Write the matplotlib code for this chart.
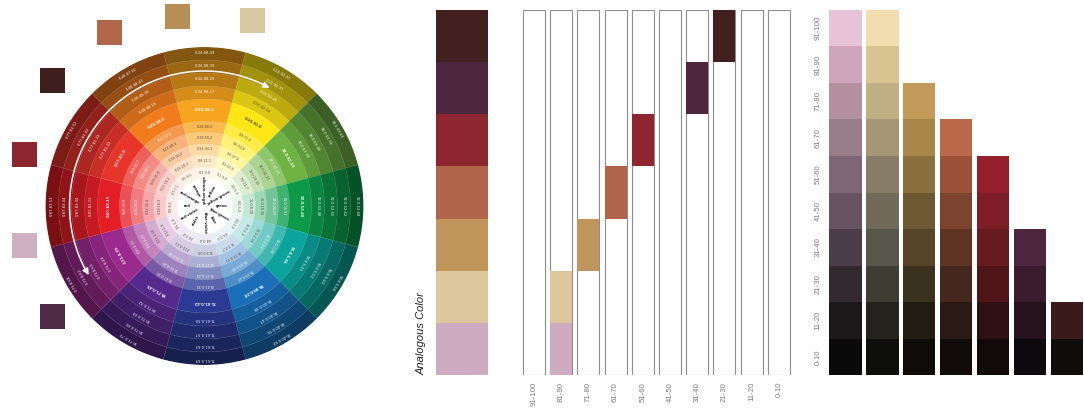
import numpy as np
import matplotlib
matplotlib.use("Agg")
import matplotlib.pyplot as plt
from matplotlib.colors import to_rgb

W, H = 1084, 419

# ---- colour wheel data (sectors clockwise from top) ----
hue_names = ["yellow-orange", "yellow", "yellow-green", "green", "blue-green", "blue",
             "blue-violet", "violet", "red-violet", "red", "red-orange", "orange"]
hue_colors = ["#F7A41E", "#FFE614", "#6FB443", "#0C9A4A", "#0BA39B", "#1A6FB8",
              "#2B3A94", "#56298D", "#9B2A8E", "#E41E26", "#E8352C", "#F07C1E"]
tint_mix = [0.90, 0.76, 0.60, 0.42, 0.22]      # toward white, inner -> outer
shade_mix = [0.14, 0.26, 0.37, 0.47]           # toward black, inner -> outer

# swatches placed around the wheel
swatch_colors = ["#B0674A", "#B58F56", "#D9C9A0", "#3F1E1E", "#8E2630", "#CFAFC2", "#4E2B45"]

# analogous colour column (top -> bottom) and the value band each one sits in
analog_colors = ["#42201F", "#4D2640", "#8E2630", "#B0654A", "#BF955B", "#DCC89C", "#CEABC0"]
analog_levels = ["21-30", "31-40", "51-60", "61-70", "71-80", "81-90", "81-90"]
levels_desc = ["91-100", "81-90", "71-80", "61-70", "51-60", "41-50", "31-40", "21-30", "11-20", "0-10"]
levels_asc = levels_desc[::-1]

# value scale columns, bottom (0-10) -> top
scale_cols = [
    ["#0A0A0B", "#1C1719", "#332A30", "#4C3E48", "#675460", "#7E6674", "#9A7D8B", "#B3909F", "#CFA5BC", "#E6C3D6"],
    ["#0E0E0D", "#25231E", "#3E3D33", "#56564A", "#716A58", "#877D66", "#A59773", "#BFAF83", "#D9C591", "#F1DDB0"],
    ["#0E0B08", "#221C13", "#3B311F", "#564529", "#6D5834", "#8A703F", "#A88548", "#C29A5A"],
    ["#110C0A", "#2A1A15", "#45271D", "#5E3424", "#7C432E", "#9B5239", "#B9684A"],
    ["#120909", "#2E1012", "#4E1418", "#671A20", "#7D1E26", "#961F2B"],
    ["#0C0A0C", "#24131D", "#3A1C2E", "#4F2640"],
    ["#0F0C0C", "#3A1A1B"],
]

# ---- layout (pixels) ----
ring_edges = [0, 28, 39, 51, 62, 74, 85, 107, 120, 133, 146, 159]
swatch_xy = [(97, 20), (165, 4), (240, 8), (40, 68), (12, 142), (12, 233), (40, 304)]
swatch_size = 25
label_col = "#7a7a7a"
tick_font = dict(family="Liberation Sans", size=5.6)


def fax(x0, y0, x1, y1, **kw):
    """axes from pixel box (top-left origin)"""
    return fig.add_axes([x0 / W, 1 - y1 / H, (x1 - x0) / W, (y1 - y0) / H], **kw)


def mix(c, other, t):
    a = np.array(to_rgb(c)); b = np.array(other)
    return tuple(a + (b - a) * t)


def cmyk(rgb):
    r, g, b = rgb
    k = 1 - max(rgb)
    if k >= 1:
        return "0.0.0.100"
    c, m, y = [(1 - v - k) / (1 - k) for v in (r, g, b)]
    return ".".join(str(int(round(v * 100))) for v in (c, m, y, k))


fig = plt.figure(figsize=(W / 100, H / 100), dpi=100)

# overlay for swatches + free text
ov = fax(0, 0, W, H)
ov.set_xlim(0, W); ov.set_ylim(H, 0); ov.axis("off")
for (x, y), c in zip(swatch_xy, swatch_colors):
    ov.bar(x, swatch_size, bottom=y, width=swatch_size, align="edge", color=c, lw=0)
ov.text(422, 375, "Analogous Color", rotation=90, ha="center", va="bottom",
        fontsize=8, style="italic", family="Liberation Sans", color="#222222")

# ---- colour wheel ----
R = ring_edges[-1]
pw = fax(204.5 - R, 206 - R, 204.5 + R, 206 + R, projection="polar")
pw.set_theta_zero_location("N"); pw.set_theta_direction(-1)
pw.set_ylim(0, R); pw.axis("off")
theta = np.radians(np.arange(12) * 30.0)
ring_fracs = [("w", 1.0)] + [("w", t) for t in tint_mix] + [("k", 0.0)] + [("k", s) for s in shade_mix]
for k, (kind, t) in enumerate(ring_fracs):
    target = (1, 1, 1) if kind == "w" else (0, 0, 0)
    cols = [mix(c, target, t) for c in hue_colors]
    r0, r1 = ring_edges[k], ring_edges[k + 1]
    pw.bar(theta, r1 - r0, width=np.radians(30), bottom=r0,
           color=cols, lw=0.25, edgecolor=[mix(c, (1, 1, 1), 0.15) for c in cols])
    if k == 0:
        continue
    for th, c in zip(theta, cols):
        ang = 90 - np.degrees(th)
        lum = 0.3 * c[0] + 0.59 * c[1] + 0.11 * c[2]
        pw.text(th, (r0 + r1) / 2, cmyk(c), rotation=ang - 90, ha="center", va="center",
                rotation_mode="anchor", fontsize=2.7 if kind == "k" else 2.4,
                color="white" if lum < 0.72 else "#4a3a30",
                fontweight="bold" if t == 0.0 else "normal", alpha=0.9)
for th, name in zip(theta, hue_names):
    ang = 90 - np.degrees(th)
    rot = ang if -90 <= ((ang + 180) % 360 - 180) <= 90 else ang + 180
    pw.text(th, 17, name, rotation=rot, ha="center", va="center", rotation_mode="anchor",
            fontsize=2.6, color="#222222", fontweight="bold")

# double-headed arc arrow
arc = np.radians(np.linspace(27, -119, 200))
pw.plot(arc, np.full_like(arc, 135), color="white", lw=1.1)
for tip, tail in [(30, 24), (-122, -116)]:
    pw.annotate("", xy=(np.radians(tip), 135), xytext=(np.radians(tail), 135),
                arrowprops=dict(arrowstyle="-|>", color="white", lw=1.1, mutation_scale=9))

# ---- analogous column ----
aa = fax(436, 10, 488, 375)
aa.bar(0, 1, bottom=np.arange(len(analog_colors)), width=1, color=analog_colors, lw=0)
aa.set_xlim(-0.5, 0.5); aa.set_ylim(len(analog_colors), 0); aa.axis("off")

# ---- value band columns ----
ba = fax(520.4, 10, 792.4, 375)
n_rows = len(analog_colors)
ba.bar(range(len(levels_desc)), n_rows, bottom=0, width=0.81, color="white",
       edgecolor="#8c8c8c", lw=0.8)
for i, (c, lv) in enumerate(zip(analog_colors, analog_levels)):
    ba.bar(levels_desc.index(lv), 1, bottom=i, width=0.81, color=c, lw=0)
ba.set_xlim(-0.5, len(levels_desc) - 0.5); ba.set_ylim(n_rows, 0)
ba.set_xticks(range(len(levels_desc)))
ba.set_xticklabels(levels_desc, rotation=90, color=label_col, **tick_font)
ba.tick_params(length=0, pad=5)
ba.set_yticks([])
for s in ba.spines.values():
    s.set_visible(False)
ba.patch.set_alpha(0)

# ---- value scale ----
va = fax(827, 10, 1085.3, 375)
for j, cols in enumerate(scale_cols):
    va.bar(j, 1, bottom=np.arange(len(cols)), width=0.88, color=cols, lw=0)
va.set_xlim(-0.5, len(scale_cols) - 0.5); va.set_ylim(0, len(levels_asc))
va.set_yticks(np.arange(len(levels_asc)) + 0.5)
va.set_yticklabels(levels_asc, rotation=90, va="center", color=label_col, **tick_font)
va.tick_params(length=0, pad=4)
va.set_xticks([])
for s in va.spines.values():
    s.set_visible(False)
va.patch.set_alpha(0)

fig.savefig("out.png", dpi=100)
